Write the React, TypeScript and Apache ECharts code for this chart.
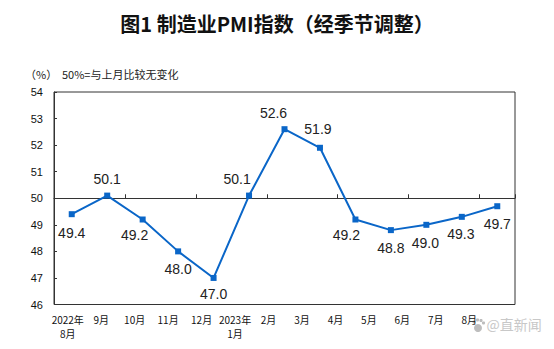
import React, { useEffect, useRef } from "react";
import * as echarts from "echarts";

const categories = ["2022年\n8月", "9月", "10月", "11月", "12月", "2023年\n1月", "2月", "3月", "4月", "5月", "6月", "7月", "8月"];
const pmiValues = [49.4, 50.1, 49.2, 48.0, 47.0, 50.1, 52.6, 51.9, 49.2, 48.8, 49.0, 49.3, 49.7];
const labelOffsets: [number, number][] = [
  [0, 19], [0, -17], [-8, 15], [0, 18], [0, 16], [-12, -17], [-11, -16],
  [-2, -19], [-9, 15], [0, 18], [-1, 18], [-1, 17], [0, 18],
];
const yMin = 46;
const yMax = 54;
const refLine = 50;

export default function App() {
  const ref = useRef<HTMLDivElement>(null);
  useEffect(() => {
    if (!ref.current) return;
    const chart = echarts.init(ref.current, undefined, { renderer: "svg" });
    const gridTop = 92;
    const gridBottom = 44.5;
    const plotH = 349 - gridTop - gridBottom;
    const lineOffset = -((refLine - yMin) / (yMax - yMin)) * plotH;
    const paw = "#bdbdbd";
    chart.setOption({
      animation: false,
      backgroundColor: "#fff",
      title: {
        text: "图1 制造业PMI指数（经季节调整）",
        left: "center",
        top: 8,
        textStyle: { fontFamily: "Noto Sans CJK SC", fontSize: 20, fontWeight: "bold", color: "#111" },
      },
      graphic: [
        { type: "text", left: 25, top: 68, style: { text: "（%）", font: "11px 'Noto Sans CJK SC'", fill: "#222" } },
        { type: "text", left: 62, top: 68, style: { text: "50%=与上月比较无变化", font: "11px 'Noto Sans CJK SC'", fill: "#222" } },
        { type: "circle", shape: { cx: 478, cy: 328, r: 4 }, style: { fill: paw } },
        { type: "circle", shape: { cx: 474, cy: 322, r: 1.6 }, style: { fill: paw } },
        { type: "circle", shape: { cx: 477.5, cy: 320, r: 1.6 }, style: { fill: paw } },
        { type: "circle", shape: { cx: 481, cy: 320.5, r: 1.6 }, style: { fill: paw } },
        { type: "circle", shape: { cx: 483.5, cy: 323, r: 1.6 }, style: { fill: paw } },
        {
          type: "text", left: 486, top: 316,
          style: { text: "@直新闻", font: "14px 'Noto Sans CJK SC'", fill: "#c8c8c8", stroke: "#fff", lineWidth: 1 },
        },
      ],
      grid: [
        { left: 54, right: 39, top: gridTop, bottom: gridBottom, show: true, borderColor: "#333", borderWidth: 1, backgroundColor: "transparent" },
        { left: 51, width: 435, top: gridTop, bottom: gridBottom },
      ],
      xAxis: [
        {
          type: "category",
          gridIndex: 0,
          data: categories,
          boundaryGap: true,
          position: "bottom",
          offset: lineOffset,
          axisLine: { show: true, lineStyle: { color: "#333", width: 1 } },
          axisTick: { show: true, inside: true, length: 4, lineStyle: { color: "#333" } },
          axisLabel: { show: false },
          splitLine: { show: false },
        },
        {
          type: "category",
          gridIndex: 1,
          data: categories,
          boundaryGap: true,
          axisLine: { show: false },
          axisTick: { show: false },
          axisLabel: {
            show: true,
            interval: 0,
            margin: 8,
            color: "#111",
            fontFamily: "Noto Sans CJK SC",
            fontSize: 10,
            lineHeight: 14,
          },
        },
      ],
      yAxis: [
        {
          type: "value",
          gridIndex: 0,
          min: yMin,
          max: yMax,
          interval: 1,
          axisLine: { show: true, lineStyle: { color: "#333" } },
          axisTick: { show: true, inside: true, length: 3, lineStyle: { color: "#333" } },
          axisLabel: { color: "#111", fontFamily: "Liberation Sans", fontSize: 11, margin: 11 },
          splitLine: { show: false },
        },
        { type: "value", gridIndex: 1, min: yMin, max: yMax, show: false },
      ],
      series: [
        {
          type: "line",
          xAxisIndex: 0,
          yAxisIndex: 0,
          data: pmiValues.map((v, i) => ({
            value: v,
            label: { offset: labelOffsets[i] },
          })),
          symbol: "rect",
          symbolSize: 6,
          lineStyle: { color: "#0A66C8", width: 2 },
          itemStyle: { color: "#0A66C8" },
          label: {
            show: true,
            position: "inside",
            formatter: (p: any) => Number(p.value).toFixed(1),
            color: "#222",
            fontFamily: "Liberation Sans",
            fontSize: 14,
          },
        },
      ],
    });
    return () => chart.dispose();
  }, []);
  return <div ref={ref} style={{ width: 554, height: 349, position: "absolute", left: 0, top: 0 }} />;
}
